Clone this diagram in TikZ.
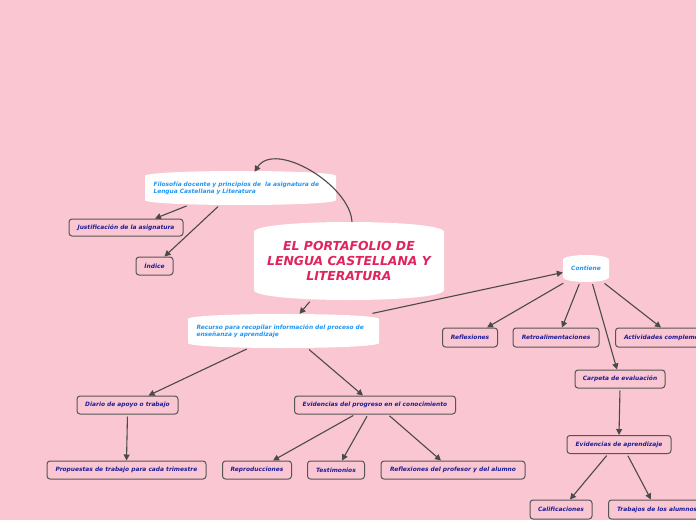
\documentclass[tikz,border=0pt]{standalone}
\usepackage{fontspec}
\usetikzlibrary{arrows.meta}
\newfontfamily\dv{DejaVu Sans}[BoldItalicFont={DejaVu Sans Bold Oblique}]
\definecolor{bgpink}{HTML}{F9C6D1}
\definecolor{boxfill}{HTML}{F9C6D1}
\definecolor{boxline}{HTML}{555555}
\definecolor{navy}{HTML}{1C1C96}
\definecolor{skyb}{HTML}{2196F3}
\definecolor{titlec}{HTML}{E0245E}
\definecolor{arrowc}{HTML}{4A4A4A}
\newcommand\smallf{\dv\bfseries\itshape\fontsize{5.9pt}{7.4pt}\selectfont}
\newcommand\blobshape[5]{\fill[white] (#1,#2+#5) .. controls (#1,#2-#5/3) and (#3,#2-#5/3) .. (#3,#2+#5) -- (#3,#4-#5) .. controls (#3,#4+#5/3) and (#1,#4+#5/3) .. (#1,#4-#5) -- cycle;}
\tikzset{
  box/.style={draw=boxline, fill=boxfill, rounded corners=3pt, line width=1pt, text=navy, font=\smallf, minimum height=18pt, inner xsep=0pt, inner ysep=0pt},
  boxw/.style={box, inner xsep=8.5pt, anchor=west},
  conn/.style={draw=arrowc, line width=1.1pt, shorten <=2pt, -{Triangle[length=6pt,width=6pt]}},
  blobtext/.style={text=skyb, font=\smallf, align=left, inner xsep=8pt, inner ysep=0pt, text width=174pt},
}
\begin{document}
\begin{tikzpicture}[x=1pt,y=-1pt]
\useasboundingbox (0,0) rectangle (696,520);
\clip (0,0) rectangle (696,520);
\fill[bgpink] (0,0) rectangle (696,520);
% white blobs
\blobshape{254}{222}{444}{300}{10}
\blobshape{145}{171}{336}{205}{5}
\blobshape{188}{314}{379}{348}{5}
\blobshape{563}{255}{609}{282}{5}
% blob nodes
\node[text=titlec, font=\dv\bfseries\itshape\fontsize{12.4pt}{15pt}\selectfont, align=center, minimum width=190pt, minimum height=78pt, inner sep=0pt] (main) at (349,261) {\raisebox{-2pt}{\parbox{190pt}{\centering EL PORTAFOLIO DE\\LENGUA CASTELLANA Y\\LITERATURA}}};
\node[blobtext, minimum height=34pt] (filo) at (240.5,188) {Filosofía docente y principios de~ la asignatura de\\Lengua Castellana y Literatura};
\node[blobtext, minimum height=34pt] (recurso) at (283.5,331) {Recurso para recopilar información del proceso de\\enseñanza y aprendizaje};
\node[text=skyb, font=\smallf, minimum width=46pt, minimum height=27pt, inner sep=0pt] (contiene) at (586,268.5) {Contiene};
% boxes
\node[box, minimum width=114pt, minimum height=17pt] (just) at (126,227.5) {Justificación de la asignatura};
\node[box, minimum width=37pt] (indice) at (154.5,266) {Índice};
\node[box, minimum width=55pt, minimum height=19pt] (refl) at (470,337.5) {Reflexiones};
\node[box, minimum width=86pt, minimum height=19pt] (retro) at (556,337.5) {Retroalimentaciones};
\node[boxw, minimum height=19pt] (activ) at (615,337.5) {Actividades complementarias};
\node[box, minimum width=90pt] (carpeta) at (620,379) {Carpeta de evaluación};
\node[box, minimum width=104pt] (evidap) at (619,444.5) {Evidencias de aprendizaje};
\node[box, minimum width=62pt, minimum height=19pt] (calif) at (561,509.5) {Calificaciones};
\node[boxw, minimum height=19pt] (trab) at (608,509.5) {Trabajos de los alumnos};
\node[box, minimum width=101pt] (diario) at (127.5,405) {Diario de apoyo o trabajo};
\node[box, minimum width=159pt] (prop) at (126.5,470) {Propuestas de trabajo para cada trimestre};
\node[box, minimum width=161pt] (evprog) at (375,405) {Evidencias del progreso en el conocimiento};
\node[box, minimum width=69pt] (repro) at (257,470) {Reproducciones};
\node[box, minimum width=57pt] (testi) at (336,470) {Testimonios};
\node[box, minimum width=144pt] (reflprof) at (453,470) {Reflexiones del profesor y del alumno};
% connectors
\draw[conn, shorten <=0pt] ([xshift=3pt]main.north) .. controls (350,185) and (275,140) .. ([xshift=14pt,yshift=-1pt]filo.north);
\draw[conn] ([xshift=-52pt]filo.south) -- ([xshift=29pt]just.north);
\draw[conn] ([xshift=-21pt]filo.south) -- ([xshift=10pt]indice.north);
\draw[conn] ([xshift=-38pt]main.south) -- ([xshift=16pt]recurso.north);
\draw[conn] ([xshift=87pt]recurso.north) -- ([yshift=-4pt]contiene.west);
\draw[conn] ([xshift=-35pt]recurso.south) -- ([xshift=21pt]diario.north);
\draw[conn] ([xshift=24pt]recurso.south) -- ([xshift=-12pt]evprog.north);
\draw[conn] (diario.south) -- (prop.north);
\draw[conn] ([xshift=-20pt]evprog.south) -- ([xshift=16pt]repro.north);
\draw[conn] ([xshift=-7pt]evprog.south) -- ([xshift=6pt]testi.north);
\draw[conn] ([xshift=13pt]evprog.south) -- ([xshift=-12pt]reflprof.north);
\draw[conn] ([xshift=-21pt]contiene.south) -- ([xshift=17pt]refl.north);
\draw[conn] ([xshift=-6pt]contiene.south) -- ([xshift=6pt]retro.north);
\draw[conn] ([xshift=6pt]contiene.south) -- ([xshift=-3pt]carpeta.north);
\draw[conn] ([xshift=17pt]contiene.south) -- ([xshift=46pt]activ.north west);
\draw[conn] (carpeta.south) -- (evidap.north);
\draw[conn] ([xshift=-11pt]evidap.south) -- ([xshift=9pt]calif.north);
\draw[conn] ([xshift=8pt]evidap.south) -- ([xshift=43pt]trab.north west);
\end{tikzpicture}
\end{document}
